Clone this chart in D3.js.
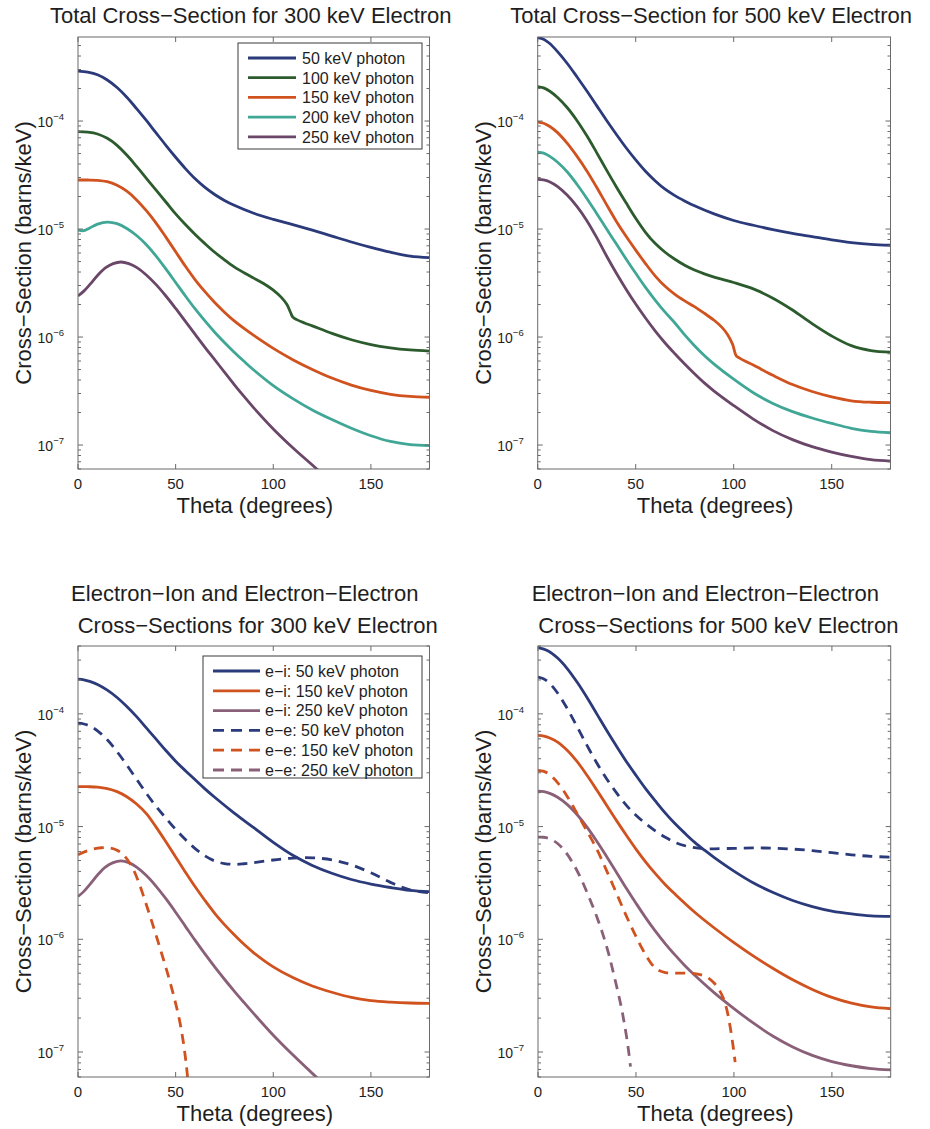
<!DOCTYPE html>
<html><head><meta charset="utf-8">
<script src="https://cdn.jsdelivr.net/npm/d3@7/dist/d3.min.js"></script>
<style>
body{margin:0;background:#fff}
svg{display:block}
text{font-family:"Liberation Sans",Arial,Helvetica,sans-serif;fill:#1e1e1e}
</style>
</head><body>
<svg id="chart" width="930" height="1129"></svg>
<script>
// ---------------- DATA (theta in degrees, cross-section in barns/keV) ----------------
const xTicks = [0, 50, 100, 150];
const yTickExps = [-7, -6, -5, -4];

const titlesTop = ["Total Cross\u2212Section for 300 keV Electron", "Total Cross\u2212Section for 500 keV Electron"];
const titlesBottom = [
  ["Electron\u2212Ion and Electron\u2212Electron", "Cross\u2212Sections for 300 keV Electron"],
  ["Electron\u2212Ion and Electron\u2212Electron", "Cross\u2212Sections for 500 keV Electron"]
];
const xLabel = "Theta (degrees)";
const yLabel = "Cross\u2212Section (barns/keV)";
const legendTotal = ["50 keV photon", "100 keV photon", "150 keV photon", "200 keV photon", "250 keV photon"];
const legendSplit = ["e\u2212i: 50 keV photon", "e\u2212i: 150 keV photon", "e\u2212i: 250 keV photon",
                     "e\u2212e: 50 keV photon", "e\u2212e: 150 keV photon", "e\u2212e: 250 keV photon"];

// Total, 300 keV electron
const tl_50 = [[0,2.904e-4],[5,2.831e-4],[10,2.679e-4],[15,2.399e-4],[20,2.042e-4],[25,1.660e-4],[30,1.303e-4],[35,1.012e-4],[40,7.76e-5],[45,5.96e-5],[50,4.62e-5],[55,3.63e-5],[60,2.92e-5],[65,2.43e-5],[70,2.09e-5],[75,1.84e-5],[80,1.66e-5],[90,1.40e-5],[100,1.23e-5],[110,1.10e-5],[120,9.77e-6],[130,8.61e-6],[140,7.59e-6],[150,6.76e-6],[160,6.10e-6],[170,5.62e-6],[180,5.43e-6]];
const tl_100 = [[0,7.98e-5],[5,7.89e-5],[10,7.59e-5],[15,6.92e-5],[20,5.96e-5],[25,4.84e-5],[30,3.80e-5],[35,2.95e-5],[40,2.29e-5],[45,1.78e-5],[50,1.38e-5],[55,1.10e-5],[60,8.91e-6],[65,7.33e-6],[70,6.10e-6],[75,5.19e-6],[80,4.47e-6],[85,3.94e-6],[90,3.51e-6],[95,3.13e-6],[100,2.72e-6],[104,2.34e-6],[107,2.0e-6],[109,1.66e-6],[110,1.53e-6],[112,1.45e-6],[116,1.35e-6],[120,1.27e-6],[130,1.08e-6],[140,9.44e-7],[150,8.51e-7],[160,7.94e-7],[170,7.59e-7],[180,7.41e-7]];
const tl_150 = [[0,2.844e-5],[5,2.844e-5],[10,2.825e-5],[15,2.742e-5],[20,2.541e-5],[25,2.239e-5],[30,1.862e-5],[35,1.479e-5],[40,1.135e-5],[45,8.41e-6],[50,6.17e-6],[55,4.52e-6],[60,3.39e-6],[65,2.63e-6],[70,2.09e-6],[75,1.70e-6],[80,1.41e-6],[85,1.20e-6],[90,1.035e-6],[100,7.85e-7],[110,6.17e-7],[120,5.01e-7],[130,4.17e-7],[140,3.59e-7],[150,3.20e-7],[160,2.95e-7],[170,2.82e-7],[180,2.77e-7]];
const tl_200 = [[0,9.79e-6],[3,9.66e-6],[6,1.023e-5],[10,1.109e-5],[15,1.161e-5],[20,1.122e-5],[25,1.012e-5],[30,8.71e-6],[35,7.16e-6],[40,5.62e-6],[45,4.27e-6],[50,3.20e-6],[55,2.40e-6],[60,1.82e-6],[65,1.41e-6],[70,1.109e-6],[75,8.91e-7],[80,7.24e-7],[85,5.96e-7],[90,4.95e-7],[100,3.55e-7],[110,2.69e-7],[120,2.11e-7],[130,1.72e-7],[140,1.43e-7],[150,1.22e-7],[160,1.08e-7],[170,1.01e-7],[180,9.89e-8]];
const tl_250 = [[0,2.399e-6],[3,2.661e-6],[6,3.055e-6],[10,3.715e-6],[14,4.365e-6],[18,4.786e-6],[22,4.955e-6],[26,4.786e-6],[30,4.416e-6],[35,3.758e-6],[40,3.055e-6],[45,2.399e-6],[50,1.841e-6],[55,1.396e-6],[60,1.059e-6],[65,8.04e-7],[70,6.17e-7],[75,4.73e-7],[80,3.63e-7],[85,2.82e-7],[90,2.21e-7],[100,1.41e-7],[110,9.44e-8],[120,6.53e-8],[125,5.43e-8]];

// Total, 500 keV electron
const tr_50 = [[0,5.916e-4],[3,5.728e-4],[6,5.248e-4],[10,4.416e-4],[15,3.428e-4],[20,2.570e-4],[25,1.905e-4],[30,1.396e-4],[35,1.023e-4],[40,7.59e-5],[45,5.69e-5],[50,4.37e-5],[55,3.43e-5],[60,2.79e-5],[65,2.34e-5],[70,2.04e-5],[75,1.82e-5],[80,1.64e-5],[90,1.38e-5],[100,1.20e-5],[110,1.084e-5],[120,9.89e-6],[130,9.12e-6],[140,8.51e-6],[150,7.94e-6],[160,7.50e-6],[170,7.21e-6],[180,7.08e-6]];
const tr_100 = [[0,2.084e-4],[3,2.028e-4],[6,1.897e-4],[10,1.660e-4],[15,1.334e-4],[20,1.012e-4],[25,7.33e-5],[30,5.13e-5],[35,3.55e-5],[40,2.48e-5],[45,1.76e-5],[50,1.259e-5],[55,9.33e-6],[60,7.33e-6],[65,6.10e-6],[70,5.25e-6],[75,4.62e-6],[80,4.17e-6],[85,3.85e-6],[90,3.59e-6],[95,3.39e-6],[100,3.20e-6],[110,2.79e-6],[120,2.29e-6],[130,1.78e-6],[140,1.33e-6],[150,1.023e-6],[160,8.32e-7],[170,7.50e-7],[180,7.24e-7]];
const tr_150 = [[0,9.79e-5],[3,9.55e-5],[6,8.95e-5],[10,7.85e-5],[15,6.24e-5],[20,4.73e-5],[25,3.47e-5],[30,2.45e-5],[35,1.70e-5],[40,1.189e-5],[45,8.61e-6],[50,6.38e-6],[55,4.79e-6],[60,3.67e-6],[65,2.95e-6],[70,2.48e-6],[75,2.16e-6],[80,1.91e-6],[85,1.66e-6],[90,1.43e-6],[94,1.23e-6],[97,1.047e-6],[99.5,8.51e-7],[101.3,6.68e-7],[103,6.38e-7],[106,5.96e-7],[110,5.50e-7],[120,4.42e-7],[130,3.63e-7],[140,3.13e-7],[150,2.79e-7],[160,2.57e-7],[170,2.49e-7],[180,2.47e-7]];
const tr_200 = [[0,5.164e-5],[3,5.047e-5],[6,4.73e-5],[10,4.17e-5],[15,3.39e-5],[20,2.60e-5],[25,1.93e-5],[30,1.40e-5],[35,1.012e-5],[40,7.33e-6],[45,5.31e-6],[50,3.89e-6],[55,2.88e-6],[60,2.19e-6],[65,1.70e-6],[70,1.35e-6],[75,1.047e-6],[80,8.32e-7],[85,6.76e-7],[90,5.62e-7],[100,4.07e-7],[110,3.05e-7],[120,2.43e-7],[130,2.04e-7],[140,1.78e-7],[150,1.585e-7],[160,1.43e-7],[170,1.34e-7],[180,1.30e-7]];
const tr_250 = [[0,2.884e-5],[3,2.851e-5],[6,2.742e-5],[10,2.483e-5],[15,2.065e-5],[20,1.622e-5],[25,1.202e-5],[30,8.41e-6],[35,5.69e-6],[40,3.94e-6],[45,2.79e-6],[50,2.02e-6],[55,1.50e-6],[60,1.135e-6],[65,8.81e-7],[70,7.0e-7],[75,5.62e-7],[80,4.57e-7],[85,3.76e-7],[90,3.16e-7],[100,2.32e-7],[110,1.74e-7],[120,1.36e-7],[130,1.122e-7],[140,9.66e-8],[150,8.61e-8],[160,7.85e-8],[170,7.33e-8],[180,7.11e-8]];

// Electron-ion / electron-electron, 300 keV electron
const bl_ei50 = [[0,2.032e-4],[3,2.004e-4],[6,1.941e-4],[10,1.820e-4],[15,1.622e-4],[20,1.396e-4],[25,1.161e-4],[30,9.44e-5],[35,7.50e-5],[40,5.96e-5],[45,4.73e-5],[50,3.80e-5],[55,3.13e-5],[60,2.60e-5],[65,2.16e-5],[70,1.82e-5],[80,1.318e-5],[90,9.77e-6],[100,7.24e-6],[110,5.56e-6],[120,4.52e-6],[130,3.85e-6],[140,3.39e-6],[150,3.09e-6],[160,2.88e-6],[170,2.72e-6],[180,2.65e-6]];
const bl_ei150 = [[0,2.265e-5],[5,2.259e-5],[10,2.239e-5],[15,2.173e-5],[20,2.042e-5],[25,1.841e-5],[30,1.585e-5],[35,1.303e-5],[40,9.89e-6],[45,7.33e-6],[50,5.37e-6],[55,3.94e-6],[60,2.92e-6],[65,2.21e-6],[70,1.70e-6],[75,1.35e-6],[80,1.096e-6],[85,9.02e-7],[90,7.59e-7],[100,5.69e-7],[110,4.57e-7],[120,3.85e-7],[130,3.39e-7],[140,3.05e-7],[150,2.86e-7],[160,2.77e-7],[170,2.72e-7],[180,2.70e-7]];
const bl_ei250 = [[0,2.399e-6],[3,2.661e-6],[6,3.055e-6],[10,3.715e-6],[14,4.365e-6],[18,4.786e-6],[22,4.955e-6],[26,4.786e-6],[30,4.365e-6],[35,3.673e-6],[40,2.951e-6],[45,2.291e-6],[50,1.738e-6],[55,1.303e-6],[60,9.77e-7],[65,7.41e-7],[70,5.69e-7],[75,4.42e-7],[80,3.47e-7],[85,2.75e-7],[90,2.19e-7],[100,1.41e-7],[110,9.44e-8],[120,6.46e-8],[125,5.37e-8]];
const bl_ee50 = [[0,8.26e-5],[3,8.13e-5],[6,7.80e-5],[10,7.08e-5],[15,5.89e-5],[20,4.62e-5],[25,3.51e-5],[30,2.63e-5],[35,1.97e-5],[40,1.51e-5],[45,1.189e-5],[50,9.44e-6],[55,7.67e-6],[60,6.38e-6],[65,5.50e-6],[70,4.95e-6],[75,4.70e-6],[80,4.62e-6],[85,4.68e-6],[90,4.79e-6],[100,5.05e-6],[110,5.25e-6],[120,5.28e-6],[130,5.07e-6],[140,4.57e-6],[150,3.89e-6],[160,3.20e-6],[170,2.75e-6],[180,2.59e-6]];
const bl_ee150 = [[0,5.61e-6],[4,6.03e-6],[8,6.34e-6],[12,6.49e-6],[16,6.46e-6],[20,6.17e-6],[24,5.43e-6],[28,4.27e-6],[31,3.24e-6],[34,2.29e-6],[37,1.585e-6],[40,1.084e-6],[43,7.33e-7],[46,4.90e-7],[49,3.16e-7],[52,1.905e-7],[54,1.202e-7],[55.5,7.59e-8],[56.5,5.01e-8]];
const bl_ee250 = []; // below the plotted range everywhere

// Electron-ion / electron-electron, 500 keV electron
const br_ei50 = [[0,3.873e-4],[5,3.631e-4],[10,3.126e-4],[15,2.512e-4],[20,1.905e-4],[25,1.396e-4],[30,1.0e-4],[35,7.16e-5],[40,5.19e-5],[45,3.80e-5],[50,2.85e-5],[55,2.16e-5],[60,1.679e-5],[65,1.318e-5],[70,1.059e-5],[75,8.71e-6],[80,7.24e-6],[85,6.17e-6],[90,5.31e-6],[100,4.03e-6],[110,3.16e-6],[120,2.60e-6],[130,2.21e-6],[140,1.95e-6],[150,1.778e-6],[160,1.679e-6],[170,1.614e-6],[180,1.596e-6]];
const br_ei150 = [[0,6.44e-5],[3,6.34e-5],[6,6.10e-5],[10,5.62e-5],[15,4.73e-5],[20,3.76e-5],[25,2.85e-5],[30,2.11e-5],[35,1.549e-5],[40,1.135e-5],[45,8.41e-6],[50,6.31e-6],[55,4.84e-6],[60,3.80e-6],[65,3.05e-6],[70,2.51e-6],[80,1.738e-6],[90,1.259e-6],[100,9.33e-7],[110,7.08e-7],[120,5.50e-7],[130,4.37e-7],[140,3.59e-7],[150,3.05e-7],[160,2.71e-7],[170,2.51e-7],[180,2.42e-7]];
const br_ei250 = [[0,2.065e-5],[3,2.042e-5],[6,1.972e-5],[10,1.820e-5],[15,1.567e-5],[20,1.274e-5],[25,9.89e-6],[30,7.41e-6],[35,5.43e-6],[40,3.94e-6],[45,2.85e-6],[50,2.09e-6],[55,1.549e-6],[60,1.175e-6],[65,9.12e-7],[70,7.24e-7],[75,5.82e-7],[80,4.79e-7],[90,3.35e-7],[100,2.43e-7],[110,1.80e-7],[120,1.38e-7],[130,1.109e-7],[140,9.33e-8],[150,8.22e-8],[160,7.55e-8],[170,7.13e-8],[180,6.95e-8]];
const br_ee50 = [[0,2.123e-4],[3,2.042e-4],[6,1.862e-4],[10,1.531e-4],[15,1.109e-4],[20,7.67e-5],[25,5.25e-5],[30,3.67e-5],[35,2.66e-5],[40,2.0e-5],[45,1.549e-5],[50,1.259e-5],[55,1.059e-5],[60,9.12e-6],[65,8.04e-6],[70,7.24e-6],[75,6.76e-6],[80,6.49e-6],[85,6.37e-6],[90,6.35e-6],[100,6.41e-6],[110,6.46e-6],[120,6.43e-6],[130,6.31e-6],[140,6.12e-6],[150,5.86e-6],[160,5.62e-6],[170,5.44e-6],[180,5.36e-6]];
const br_ee150 = [[0,3.155e-5],[3,3.09e-5],[6,2.884e-5],[10,2.455e-5],[15,1.841e-5],[20,1.303e-5],[25,9.12e-6],[30,6.31e-6],[35,4.07e-6],[40,2.57e-6],[45,1.622e-6],[50,1.059e-6],[55,7.24e-7],[58,6.03e-7],[61,5.37e-7],[65,5.07e-7],[70,5.01e-7],[75,5.01e-7],[80,4.95e-7],[84,4.79e-7],[87,4.52e-7],[90,4.07e-7],[92.5,3.55e-7],[94.5,3.02e-7],[96.3,2.40e-7],[98,1.70e-7],[99.5,1.148e-7],[100.6,8.13e-8]];
const br_ee250 = [[0,8.07e-6],[3,8.04e-6],[6,7.80e-6],[10,7.08e-6],[14,5.96e-6],[18,4.68e-6],[22,3.43e-6],[26,2.37e-6],[30,1.585e-6],[33,1.122e-6],[36,7.50e-7],[39,4.62e-7],[42,2.75e-7],[44,1.82e-7],[46,1.096e-7],[47.2,7.41e-8]];

// ---------------- STYLE / LAYOUT ----------------
const C50 = "#2b3a7a", C100 = "#2c5b2d", C150 = "#d0521f", C200 = "#40a796", C250 = "#6a4768", C250b = "#8a6079";
const DASH = "10,7";

const panels = [
  { left: 78, right: 429.5, top: 37, bottom: 469, yMax: 6e-4,
    title: titlesTop[0],
    series: [[tl_50,C50,null],[tl_100,C100,null],[tl_150,C150,null],[tl_200,C200,null],[tl_250,C250,null]],
    legend: { x: 238, y: 43, w: 184, h: 106, rowH: 19.7, lineX0: 248, lineX1: 296, textX: 302, labels: legendTotal } },
  { left: 537.7, right: 890.5, top: 37, bottom: 469, yMax: 6e-4,
    title: titlesTop[1],
    series: [[tr_50,C50,null],[tr_100,C100,null],[tr_150,C150,null],[tr_200,C200,null],[tr_250,C250,null]],
    legend: null },
  { left: 78, right: 429.5, top: 646, bottom: 1077, yMax: 4e-4,
    title2: titlesBottom[0],
    series: [[bl_ei50,C50,null],[bl_ei150,C150,null],[bl_ei250,C250b,null],[bl_ee50,C50,DASH],[bl_ee150,C150,DASH],[bl_ee250,C250b,DASH]],
    legend: { x: 203, y: 656, w: 219, h: 122, rowH: 19.8, lineX0: 213, lineX1: 260, textX: 265, labels: legendSplit } },
  { left: 538, right: 890.7, top: 646, bottom: 1077, yMax: 4e-4,
    title2: titlesBottom[1],
    series: [[br_ei50,C50,null],[br_ei150,C150,null],[br_ei250,C250b,null],[br_ee50,C50,DASH],[br_ee150,C150,DASH],[br_ee250,C250b,DASH]],
    legend: null }
];

const svg = d3.select("#chart");
const AX = "#6a6a6a";

panels.forEach((p, i) => {
  const x = d3.scaleLinear().domain([0, 180]).range([p.left, p.right]);
  const y = d3.scaleLog().domain([6e-8, p.yMax]).range([p.bottom, p.top]);
  const g = svg.append("g");
  const cx = (p.left + p.right) / 2, cy = (p.top + p.bottom) / 2;

  const cid = "clip" + i;
  svg.append("clipPath").attr("id", cid).append("rect")
    .attr("x", p.left).attr("y", p.top).attr("width", p.right - p.left).attr("height", p.bottom - p.top);

  const line = d3.line().x(d => x(d[0])).y(d => y(d[1])).curve(d3.curveCatmullRom.alpha(0.5));
  const lg = g.append("g").attr("clip-path", `url(#${cid})`);
  p.series.forEach(([data, color, dash]) => {
    if (!data.length) return;
    lg.append("path").attr("d", line(data)).attr("fill", "none")
      .attr("stroke", color).attr("stroke-width", 2.8)
      .attr("stroke-dasharray", dash).attr("stroke-linejoin", "round");
  });

  g.append("rect").attr("x", p.left).attr("y", p.top).attr("width", p.right - p.left).attr("height", p.bottom - p.top)
    .attr("fill", "none").attr("stroke", AX).attr("stroke-width", 1);

  xTicks.forEach(t => {
    const xx = x(t);
    g.append("line").attr("x1", xx).attr("x2", xx).attr("y1", p.bottom).attr("y2", p.bottom - 5).attr("stroke", AX);
    g.append("line").attr("x1", xx).attr("x2", xx).attr("y1", p.top).attr("y2", p.top + 5).attr("stroke", AX);
    g.append("text").attr("x", xx).attr("y", p.bottom + 20).attr("text-anchor", "middle")
      .attr("font-size", 15).text(t);
  });

  const [d0, d1] = y.domain();
  for (let e = -8; e <= -3; e++) {
    for (let m = 1; m <= 9; m++) {
      const v = m * Math.pow(10, e);
      if (v < d0 || v > d1) continue;
      const yy = y(v);
      const len = m === 1 ? 5 : 3;
      g.append("line").attr("x1", p.left).attr("x2", p.left + len).attr("y1", yy).attr("y2", yy).attr("stroke", AX);
      g.append("line").attr("x1", p.right).attr("x2", p.right - len).attr("y1", yy).attr("y2", yy).attr("stroke", AX);
    }
  }
  yTickExps.forEach(e => {
    const yy = y(Math.pow(10, e));
    const t = g.append("text").attr("x", p.left - 14).attr("y", yy + 6).attr("text-anchor", "end").attr("font-size", 14);
    t.append("tspan").text("10");
    t.append("tspan").attr("dy", -7).attr("font-size", 9.5).text("\u2212" + Math.abs(e));
  });

  g.append("text").attr("x", cx + 1).attr("y", p.bottom + 44).attr("text-anchor", "middle")
    .attr("font-size", 22).text(xLabel);
  g.append("text").attr("transform", `translate(${p.left - 47},${cy}) rotate(-90)`).attr("text-anchor", "middle")
    .attr("font-size", 22).text(yLabel);

  if (p.title) {
    g.append("text").attr("x", cx - 3).attr("y", 23).attr("text-anchor", "middle").attr("font-size", 22).text(p.title);
  }
  if (p.title2) {
    g.append("text").attr("x", cx - 9).attr("y", p.top - 45).attr("text-anchor", "middle").attr("font-size", 22).text(p.title2[0]);
    g.append("text").attr("x", cx + 4).attr("y", p.top - 13).attr("text-anchor", "middle").attr("font-size", 22).text(p.title2[1]);
  }

  if (p.legend) {
    const L = p.legend;
    const lgd = g.append("g");
    lgd.append("rect").attr("x", L.x).attr("y", L.y).attr("width", L.w).attr("height", L.h)
      .attr("fill", "#fff").attr("stroke", "#3a3a3a").attr("stroke-width", 1);
    p.series.forEach(([data, color, dash], k) => {
      const ly = L.y + 15 + k * L.rowH;
      lgd.append("line").attr("x1", L.lineX0).attr("x2", L.lineX1).attr("y1", ly).attr("y2", ly)
        .attr("stroke", color).attr("stroke-width", 2.8).attr("stroke-dasharray", dash ? "11,7" : null);
      lgd.append("text").attr("x", L.textX).attr("y", ly + 5.8).attr("font-size", 16).text(L.labels[k]);
    });
  }
});
</script>
</body></html>
